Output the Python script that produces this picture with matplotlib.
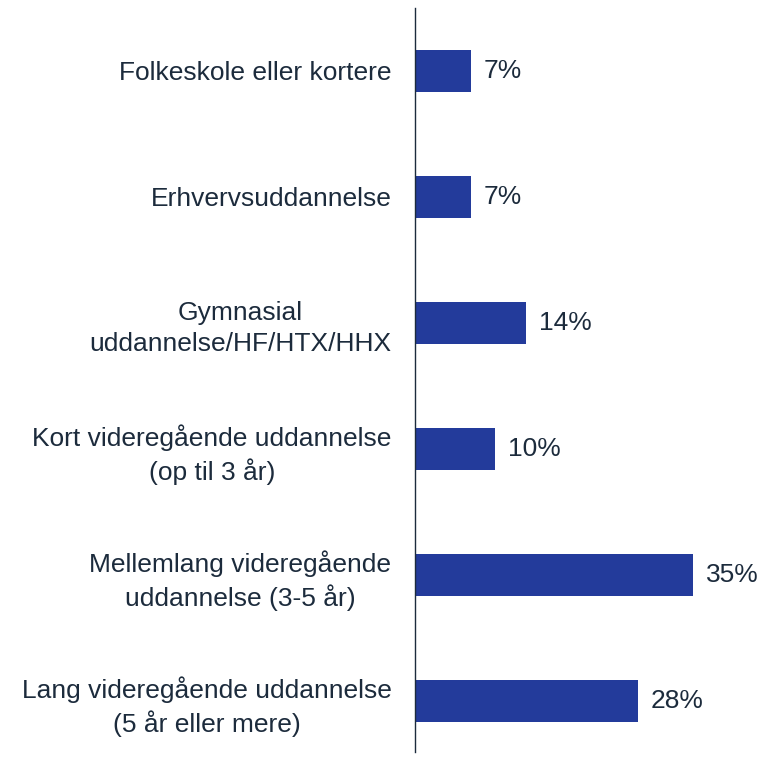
import matplotlib
matplotlib.use("Agg")
import matplotlib.pyplot as plt

categories = [
    "Folkeskole eller kortere",
    "Erhvervsuddannelse",
    "Gymnasial\nuddannelse/HF/HTX/HHX",
    "Kort videregående uddannelse\n(op til 3 år)",
    "Mellemlang videregående\nuddannelse (3-5 år)",
    "Lang videregående uddannelse\n(5 år eller mere)",
]
values = [7, 7, 14, 10, 35, 28]
value_labels = ["7%", "7%", "14%", "10%", "35%", "28%"]

plt.rcParams['font.family'] = ['Liberation Sans', 'DejaVu Sans']
text_color = "#1c2b3c"
bar_color = "#233b9b"

fig = plt.figure(figsize=(7.66, 7.59), dpi=100)
left = 415 / 766
bottom = 1 - 752 / 759
top = 1 - 8 / 759
ax = fig.add_axes([left, bottom, 1 - left, top - bottom])

y = list(range(len(categories)))
ax.barh(y, values, height=0.33, color=bar_color)
ax.set_ylim(5.405, -0.5)
ax.set_xlim(0, 351 / 7.95)

ax.set_yticks(y)
ax.set_yticklabels(categories, fontsize=19, color=text_color)
for lab in ax.get_yticklabels():
    lab.set_multialignment('center')
    lab.set_linespacing(1.33)
ax.tick_params(axis='y', length=0, pad=17)
ax.tick_params(axis='x', bottom=False, labelbottom=False)

for s in ['top', 'right', 'bottom']:
    ax.spines[s].set_visible(False)
ax.spines['left'].set_color(text_color)
ax.spines['left'].set_linewidth(1.0)

for yi, v, lab in zip(y, values, value_labels):
    ax.annotate(lab, xy=(v, yi), xytext=(9.5, 0), textcoords='offset points',
                ha='left', va='center', fontsize=19, color=text_color)

fig.savefig("out.png", dpi=100)
